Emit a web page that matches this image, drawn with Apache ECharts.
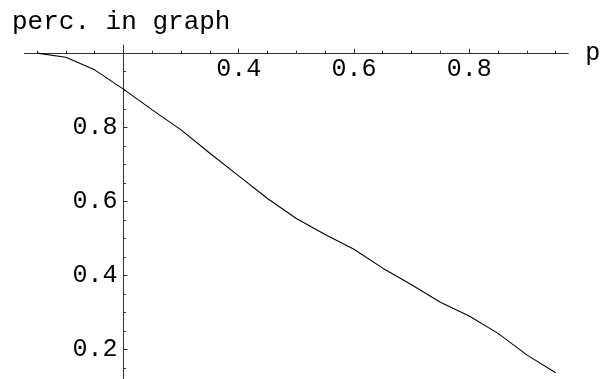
<!DOCTYPE html>
<html><head><meta charset="utf-8">
<script src="https://cdn.jsdelivr.net/npm/echarts@6/dist/echarts.min.js"></script>
<style>html,body{margin:0;padding:0;background:#fff}#c{width:604px;height:379px}</style>
</head><body><div id="c"></div>
<script>
const pValues    = [0.05, 0.10, 0.15, 0.20, 0.25, 0.30, 0.35, 0.40, 0.45, 0.50, 0.55, 0.60, 0.65, 0.70, 0.75, 0.80, 0.85, 0.90, 0.95];
const percValues = [1.000, 0.989, 0.955, 0.903, 0.847, 0.793, 0.730, 0.669, 0.608, 0.554, 0.511, 0.471, 0.420, 0.375, 0.328, 0.291, 0.244, 0.186, 0.138];
const xMinorTicks = [0.05, 0.10, 0.15, 0.20, 0.25, 0.30, 0.35, 0.40, 0.45, 0.50, 0.55, 0.60, 0.65, 0.70, 0.75, 0.80, 0.85, 0.90, 0.95];
const xMajorTicks = [0.4, 0.6, 0.8];
const yMinorTicks = [0.15, 0.20, 0.25, 0.30, 0.35, 0.40, 0.45, 0.50, 0.55, 0.60, 0.65, 0.70, 0.75, 0.80, 0.85, 0.90, 0.95, 1.00];
const yMajorTicks = [0.2, 0.4, 0.6, 0.8];
const titleText = 'perc. in graph';
const xName = 'p';

const X_MIN = 0.028, X_MAX = 0.972, Y_MIN = 0.121, Y_MAX = 1.022;
const X_CROSS = 0.2, Y_CROSS = 1.0;
const W = 604, H = 379;
const G = {left: 24.3, right: 35.7, top: 45, bottom: 0};
const gw = W - G.left - G.right, gh = H - G.top - G.bottom;
const yAxisOffset = -(X_CROSS - X_MIN) / (X_MAX - X_MIN) * gw;
const xAxisOffset = -(Y_MAX - Y_CROSS) / (Y_MAX - Y_MIN) * gh;

const FONT = 'Liberation Mono';
const AX = '#333';
const fmt = v => Number(v).toFixed(1);

const chart = echarts.init(document.getElementById('c'), null, {renderer: 'canvas'});
chart.setOption({
  animation: false,
  backgroundColor: '#fff',
  title: {text: titleText, left: 12, top: 9, padding: 0,
    textStyle: {fontFamily: FONT, fontSize: 26, fontWeight: 'normal', color: '#000'}},
  grid: G,
  xAxis: [
    {type: 'value', min: X_MIN, max: X_MAX, position: 'top', offset: xAxisOffset,
     axisLine: {onZero: false, lineStyle: {color: AX, width: 1}},
     axisTick: {inside: false, length: 2.5, customValues: xMinorTicks, lineStyle: {color: AX}},
     axisLabel: {show: false}, splitLine: {show: false}},
    {type: 'value', min: X_MIN, max: X_MAX, position: 'top', offset: xAxisOffset,
     name: xName, nameLocation: 'end', nameGap: 17,
     nameTextStyle: {fontFamily: FONT, fontSize: 25, color: '#000', padding: [6, 0, 0, 0]},
     axisLine: {show: false, onZero: false},
     axisTick: {inside: false, length: 4.5, customValues: xMajorTicks, lineStyle: {color: AX}},
     axisLabel: {inside: true, margin: 4, customValues: xMajorTicks, formatter: fmt,
       fontFamily: FONT, fontSize: 25, color: '#000'},
     splitLine: {show: false}}
  ],
  yAxis: [
    {type: 'value', min: Y_MIN, max: Y_MAX, position: 'left', offset: yAxisOffset,
     axisLine: {show: true, onZero: false, lineStyle: {color: AX, width: 1}},
     axisTick: {show: true, inside: true, length: 2.5, customValues: yMinorTicks, lineStyle: {color: AX}},
     axisLabel: {show: false}, splitLine: {show: false}},
    {type: 'value', min: Y_MIN, max: Y_MAX, position: 'left', offset: yAxisOffset,
     axisLine: {show: false, onZero: false},
     axisTick: {show: true, inside: true, length: 4, customValues: yMajorTicks, lineStyle: {color: AX}},
     axisLabel: {inside: false, margin: 6, customValues: yMajorTicks, formatter: fmt,
       fontFamily: FONT, fontSize: 25, color: '#000'},
     splitLine: {show: false}}
  ],
  series: [{
    type: 'line', xAxisIndex: 0, yAxisIndex: 0,
    data: pValues.map((p, i) => [p, percValues[i]]),
    showSymbol: false, symbol: 'none', smooth: false,
    lineStyle: {color: '#000', width: 1.1}
  }]
});
</script></body></html>
